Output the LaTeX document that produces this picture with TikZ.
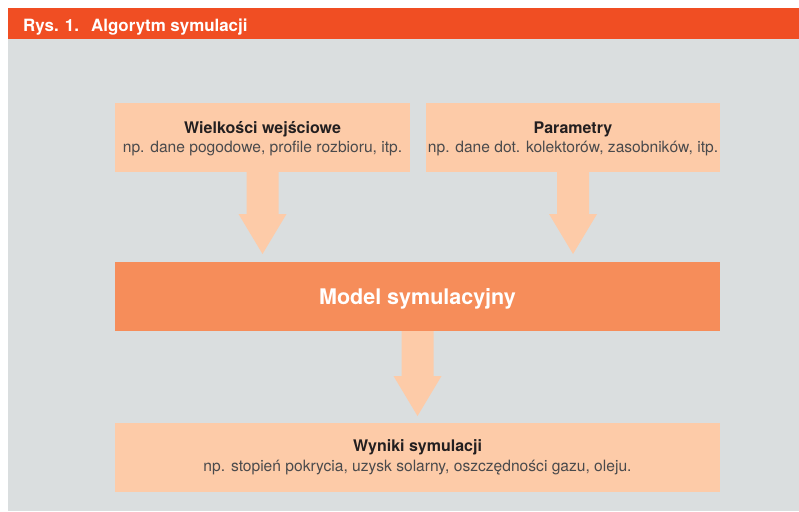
\documentclass[tikz,border=0pt]{standalone}
\usepackage{fontspec}
\setmainfont{TeX Gyre Heros}
\usetikzlibrary{calc}

\definecolor{hdr}{RGB}{240,78,35}
\definecolor{panel}{RGB}{218,222,223}
\definecolor{peach}{RGB}{253,203,168}
\definecolor{modelfill}{RGB}{246,141,90}
\definecolor{ink}{RGB}{35,31,32}
\definecolor{subink}{RGB}{74,74,76}

% broad downward arrow from a start coordinate (#1) to a tip coordinate (#2)
\newcommand\fatarrow[2]{%
  \fill[peach] ($(#1)+(-16,0)$) -- ($(#2)+(-16,-40)$) -- ($(#2)+(-24,-40)$)
    -- (#2) -- ($(#2)+(24,-40)$) -- ($(#2)+(16,-40)$) -- ($(#1)+(16,0)$) -- cycle;}

\begin{document}
\begin{tikzpicture}[x=1pt,y=-1pt,
  box/.style={fill=peach, draw=none, inner sep=0pt, outer sep=0pt,
    minimum width=#1, minimum height=69pt},
  boxtitle/.style={anchor=base, inner sep=0pt, text=ink,
    font=\fontsize{16}{18}\selectfont\bfseries},
  boxsub/.style={anchor=base, inner sep=0pt, text=subink,
    font=\fontsize{15.6}{18}\selectfont},
  hdrtext/.style={anchor=base west, inner sep=0pt, text=white,
    font=\fontsize{16.9}{18}\selectfont\bfseries},
]
\useasboundingbox (0,0) rectangle (799,511);
\fill[white] (0,0) rectangle (799,511);
% caption bar and panel
\fill[hdr] (8,8) rectangle (799,39);
\fill[panel] (8,39) rectangle (799,511);
\node[hdrtext] (capnum) at (23,31) {Rys. 1.};
\node[hdrtext] (captext) at (91,31) {Algorytm symulacji};

% boxes
\node[box=295pt] (inp) at (262.5,137.5) {};
\node[box=294pt] (par) at (573,137.5) {};
\node[box=605pt, fill=modelfill] (model) at (417.5,296.5) {};
\node[box=605pt] (res) at (417.5,457.5) {};

% texts
\node[boxtitle] (inpT) at ($(inp.center)+(0,-4.5)$) {Wielkości wejściowe};
\node[boxsub] (inpS) at ($(inp.center)+(0,14.5)$) {np. dane pogodowe, profile rozbioru, itp.};
\node[boxtitle] (parT) at ($(par.center)+(0,-4.5)$) {Parametry};
\node[boxsub] (parS) at ($(par.center)+(0,14.5)$) {np. dane dot. kolektorów, zasobników, itp.};
\node[anchor=base, inner sep=0pt, text=white,
  font=\fontsize{21.5}{24}\selectfont\bfseries] (modelT)
  at ($(model.center)+(0,7.5)$) {Model symulacyjny};
\node[boxtitle] (resT) at ($(res.center)+(0,-6)$) {Wyniki symulacji};
\node[boxsub] (resS) at ($(res.center)+(0,14)$) {np. stopień pokrycia, uzysk solarny, oszczędności gazu, oleju.};

% arrows
\coordinate (a1s) at (inp.south);
\coordinate (a1t) at ($(a1s |- model.north)+(0,-8)$);
\coordinate (a2s) at (par.south);
\coordinate (a2t) at ($(a2s |- model.north)+(0,-8)$);
\coordinate (a3s) at (model.south);
\coordinate (a3t) at ($(a3s |- res.north)+(0,-7)$);
\fatarrow{a1s}{a1t}
\fatarrow{a2s}{a2t}
\fatarrow{a3s}{a3t}
\end{tikzpicture}
\end{document}
